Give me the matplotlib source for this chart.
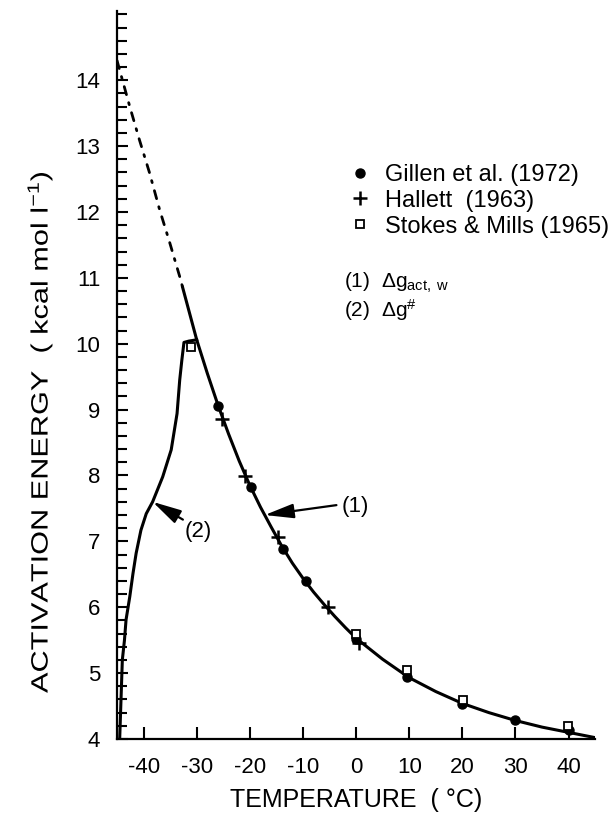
import numpy as np
import matplotlib
matplotlib.use("Agg")
import matplotlib.pyplot as plt
from matplotlib.patheffects import AbstractPathEffect
from matplotlib.transforms import Affine2D
from matplotlib.ticker import MultipleLocator

plt.rcParams['font.family'] = ['Liberation Sans', 'DejaVu Sans']
plt.rcParams['mathtext.fontset'] = 'custom'
plt.rcParams['mathtext.rm'] = 'Liberation Sans'
plt.rcParams['mathtext.it'] = 'Liberation Sans:italic'
plt.rcParams['mathtext.sf'] = 'Liberation Sans'
plt.rcParams['axes.unicode_minus'] = False
plt.rcParams['lines.scale_dashes'] = False

# curve (1), delta g act,w : solid part and dotted extrapolation
t_act = [-32.7, -30, -28, -26, -24, -22, -20, -18, -16, -14, -12, -10, -8, -6,
         -4, -2, 0, 5, 10, 15, 20, 25, 30, 35, 40, 45]
e_act = [10.87, 10.06, 9.55, 9.07, 8.63, 8.22, 7.85, 7.52, 7.22, 6.93, 6.67,
         6.44, 6.23, 6.04, 5.86, 5.69, 5.53, 5.21, 4.93, 4.72, 4.54, 4.40,
         4.28, 4.18, 4.10, 4.02]
t_extra = [-45.0, -42.6, -40.8, -38.9, -37.0, -35.1, -33.2, -32.7]
e_extra = [14.30, 13.60, 13.10, 12.60, 12.04, 11.54, 11.02, 10.87]

# curve (2), delta g #
t_hash = [-44.5, -44.0, -43.6, -43.3, -42.6, -42.0, -41.4, -40.5, -39.5, -38.3,
          -36.4, -34.8, -33.7, -33.2, -32.8, -32.4, -31.5, -30.0]
e_hash = [4.0, 5.2, 5.5, 5.81, 6.16, 6.51, 6.82, 7.17, 7.42, 7.60,
          7.98, 8.39, 8.94, 9.45, 9.75, 10.02, 10.04, 10.06]

# measurements
t_gillen = [-26.0, -19.7, -13.8, -9.5, 0.0, 9.5, 20.0, 30.0, 40.0]
e_gillen = [9.05, 7.83, 6.89, 6.40, 5.52, 4.94, 4.53, 4.29, 4.14]
t_hallett = [-25.2, -21.0, -14.7, -5.2, 0.6]
e_hallett = [8.85, 7.99, 7.06, 6.00, 5.45]
t_stokes = [-31.0, 0.0, 9.5, 20.2, 39.9]
e_stokes = [9.95, 5.60, 5.04, 4.59, 4.19]


class Stretch(AbstractPathEffect):
    # stretch glyphs along the reading direction (narrow, tall lettering)
    def __init__(self, factor):
        super().__init__()
        self.factor = factor

    def draw_path(self, renderer, gc, tpath, affine, rgbFace=None):
        bb = tpath.get_extents()
        c = (bb.x0 + bb.x1) / 2
        pre = Affine2D().translate(-c, 0).scale(self.factor, 1).translate(c, 0)
        renderer.draw_path(gc, tpath, pre + affine, rgbFace)


fig = plt.figure(figsize=(6.13, 8.16), dpi=100)
ax = fig.add_axes([0.1909, 0.0944, 0.780, 0.892])

ax.plot(t_act, e_act, color='k', lw=2.2, solid_capstyle='round', solid_joinstyle='round')
ax.plot(t_extra, e_extra, color='k', lw=2.0, ls=(0, (6, 6, 1.5, 6)),
        dash_capstyle='round')
ax.plot(t_hash, e_hash, color='k', lw=2.2, solid_joinstyle='round')

g, = ax.plot(t_gillen, e_gillen, 'o', color='k', ms=6.5, zorder=4)
h, = ax.plot(t_hallett, e_hallett, '+', color='k', ms=10, mew=1.8, zorder=4)
s, = ax.plot(t_stokes, e_stokes, 's', mfc='white', mec='k', ms=5.5, mew=1.3, zorder=5)

ax.legend([g, h, s], ['Gillen et al. (1972)', 'Hallett  (1963)', 'Stokes & Mills (1965)'],
          loc='upper left', bbox_to_anchor=(0.483, 0.790), frameon=False,
          fontsize=17, handlelength=1.0, handletextpad=0.57, labelspacing=0.16,
          borderpad=0, borderaxespad=0)
ax.text(-2.2, 10.93, '(1)  Δg$_{\\mathregular{act,\\ w}}$', fontsize=15, va='center')
ax.text(-2.2, 10.51, '(2)  Δg$^{\\mathregular{\\#}}$', fontsize=15, va='center')

arrow = dict(arrowstyle='-|>,head_length=0.8,head_width=0.2', color='k', lw=1.6,
             mutation_scale=22, shrinkA=0, shrinkB=0)
ax.annotate('', xy=(-17.2, 7.40), xytext=(-3.7, 7.55), arrowprops=arrow)
ax.text(-2.7, 7.53, '(1)', fontsize=16, va='center')
ax.annotate('', xy=(-38.3, 7.60), xytext=(-32.6, 7.33), arrowprops=arrow)
ax.text(-32.3, 7.15, '(2)', fontsize=16, va='center')

ax.set_xlim(-45, 45)
ax.set_ylim(4, 15.05)
ax.xaxis.set_major_locator(MultipleLocator(10))
ax.yaxis.set_minor_locator(MultipleLocator(0.2))
ax.set_yticks(range(4, 15))
ax.spines['top'].set_visible(False)
ax.spines['right'].set_visible(False)
for sp in ('left', 'bottom'):
    ax.spines[sp].set_linewidth(1.6)
ax.tick_params(axis='both', which='both', direction='in', labelsize=16, width=1.5)
ax.tick_params(axis='x', which='major', length=9, pad=13)
ax.tick_params(axis='y', which='major', length=8, pad=12)
ax.tick_params(axis='y', which='minor', length=7.5)

ax.set_xlabel('TEMPERATURE  ( °C)', fontsize=18, labelpad=7)
ylab = ax.set_ylabel('ACTIVATION ENERGY  ( kcal mol l$^{\\mathregular{-1}}$)', fontsize=17)
ylab.set_path_effects([Stretch(1.3)])
ax.yaxis.set_label_coords(-0.13, 0.422)

fig.savefig('out.png', dpi=100)
